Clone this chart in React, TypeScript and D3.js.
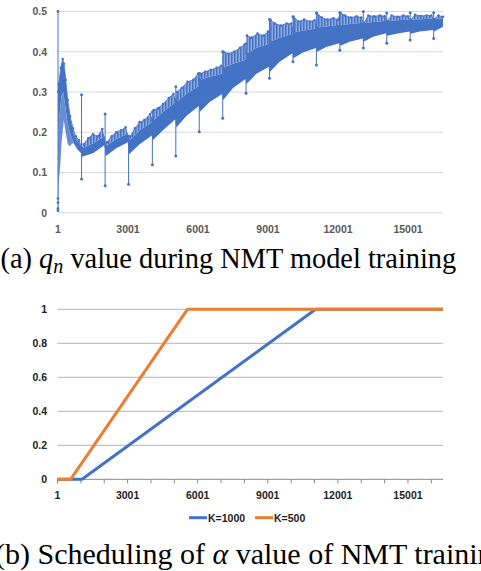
import React from "react";
import * as d3 from "d3";

// ---------- (a) q_n during NMT training ----------
const qIdx = [5, 60, 150, 220, 300, 380, 460, 560, 680, 820, 990, 1030, 1500, 2000, 2040, 2500, 3000, 3045, 3500, 4020, 4060, 4500, 5030, 5070, 5500, 6035, 6075, 6500, 7040, 7080, 7500, 8040, 8080, 8500, 9045, 9085, 9500, 10050, 10090, 10500, 11055, 11095, 11500, 12060, 12100, 12500, 13065, 13105, 13500, 14070, 14110, 14500, 15075, 15115, 15500, 16080, 16120, 16500];
const qLow = [0.2, 0.24, 0.29, 0.3, 0.27, 0.235, 0.21, 0.19, 0.172, 0.158, 0.148, 0.139, 0.148, 0.168, 0.14, 0.16, 0.175, 0.145, 0.17, 0.192, 0.18, 0.205, 0.232, 0.212, 0.24, 0.265, 0.25, 0.275, 0.295, 0.28, 0.31, 0.332, 0.32, 0.345, 0.363, 0.35, 0.375, 0.396, 0.384, 0.398, 0.409, 0.4, 0.412, 0.421, 0.415, 0.425, 0.433, 0.425, 0.437, 0.446, 0.44, 0.445, 0.45, 0.445, 0.45, 0.454, 0.45, 0.462];
const qHigh = [0.3, 0.33, 0.37, 0.378, 0.35, 0.3, 0.26, 0.225, 0.195, 0.178, 0.166, 0.16, 0.172, 0.19, 0.165, 0.183, 0.197, 0.178, 0.205, 0.225, 0.228, 0.25, 0.275, 0.275, 0.295, 0.315, 0.33, 0.338, 0.345, 0.36, 0.37, 0.38, 0.395, 0.41, 0.42, 0.425, 0.435, 0.445, 0.448, 0.452, 0.458, 0.46, 0.463, 0.467, 0.466, 0.469, 0.472, 0.471, 0.474, 0.477, 0.476, 0.478, 0.48, 0.479, 0.481, 0.482, 0.481, 0.483];

const peakIdx = [5, 30, 120, 200, 260, 330, 420, 520, 640, 760, 900, 1030, 1100, 1300, 1500, 1700, 1900, 2040, 2100, 2300, 2500, 2700, 2900, 3045, 3100, 3300, 3500, 3700, 3950, 4060, 4100, 4300, 4500, 4750, 4950, 5070, 5100, 5300, 5550, 5800, 6000, 6075, 6100, 6300, 6550, 6800, 7000, 7080, 7100, 7300, 7550, 7800, 8000, 8080, 8100, 8300, 8550, 8800, 9000, 9085, 9100, 9300, 9550, 9800, 10000, 10090, 10100, 10300, 10550, 10800, 11000, 11095, 11100, 11300, 11550, 11800, 12000, 12100, 12300, 12550, 12800, 13000, 13105, 13300, 13550, 13800, 14000, 14110, 14300, 14550, 14800, 15000, 15115, 15300, 15550, 15800, 16000, 16120, 16300, 16500];
const peakVal = [0.3, 0.32, 0.36, 0.382, 0.37, 0.33, 0.28, 0.24, 0.21, 0.19, 0.18, 0.16, 0.17, 0.185, 0.195, 0.19, 0.208, 0.165, 0.175, 0.19, 0.2, 0.205, 0.212, 0.178, 0.19, 0.21, 0.225, 0.23, 0.245, 0.228, 0.255, 0.26, 0.27, 0.285, 0.295, 0.275, 0.3, 0.31, 0.325, 0.33, 0.345, 0.33, 0.345, 0.35, 0.355, 0.36, 0.365, 0.36, 0.4, 0.395, 0.4, 0.41, 0.418, 0.395, 0.44, 0.435, 0.445, 0.44, 0.45, 0.425, 0.48, 0.47, 0.465, 0.47, 0.47, 0.448, 0.487, 0.475, 0.48, 0.475, 0.478, 0.46, 0.496, 0.485, 0.48, 0.483, 0.48, 0.497, 0.49, 0.485, 0.488, 0.485, 0.471, 0.49, 0.488, 0.49, 0.488, 0.476, 0.49, 0.487, 0.49, 0.488, 0.479, 0.492, 0.489, 0.49, 0.49, 0.481, 0.49, 0.487];

const floorIdx = [5, 15, 40, 100, 150, 250, 330, 420, 520, 600, 680];
const floorVal = [0.005, 0.005, 0.08, 0.12, 0.17, 0.23, 0.2, 0.17, 0.165, 0.172, 0.172];

const spikeIdx = [1010, 2020, 3025, 4045, 5050, 6055, 7060, 8060, 9065, 10070, 11075, 12080, 13085, 14090, 15095, 16100];
const spikeLo = [0.084, 0.067, 0.071, 0.119, 0.141, 0.201, 0.235, 0.297, 0.334, 0.375, 0.367, 0.404, 0.409, 0.421, 0.429, 0.433];
const spikeHi = [0.293, 0.245, 0.19, 0.25, 0.313, 0.346, 0.4, 0.42, 0.48, 0.487, 0.496, 0.497, 0.5, 0.496, 0.497, 0.497];

const firstStep = 1;
const firstVals = [0.5, 0.035, 0.025, 0.01, 0.005];

const topYTicks = [0, 0.1, 0.2, 0.3, 0.4, 0.5];
const xTickLabels = [1, 3001, 6001, 9001, 12001, 15001];

// ---------- (b) alpha scheduling ----------
const k1000X = [1, 1050, 11050, 16500];
const k1000Y = [0, 0, 1, 1];
const k500X = [1, 560, 5560, 16500];
const k500Y = [0, 0, 1, 1];
const botYTicks = [0, 0.2, 0.4, 0.6, 0.8, 1];
const minorTicks = [1, 1001, 2001, 3001, 4001, 5001, 6001, 7001, 8001, 9001, 10001, 11001, 12001, 13001, 14001, 15001, 16001];

const BLUE = "#4472C4";
const ORANGE = "#ED7D31";
const LABEL_FONT = "Liberation Sans";
const SERIF = "Liberation Serif";

export default function App() {
  const N = 16500;
  const xT = d3.scaleLinear().domain([1, N]).range([58, 443]);
  const yT = d3.scaleLinear().domain([0, 0.5]).range([212.7, 11.5]);
  const xB = d3.scaleLinear().domain([1, N]).range([57.5, 443]);
  const yB = d3.scaleLinear().domain([0, 1]).range([479.3, 309.3]);

  const poly = (xs: number[], ys: number[]) => xs.map((x, i) => [xT(x), yT(ys[i])] as [number, number]);
  const lineGen = d3.line();
  const corePts = [...poly(qIdx, qHigh), ...poly(qIdx, qLow).reverse()];
  const peakPts = [...poly(peakIdx, peakVal), ...poly(qIdx, qHigh).reverse()];
  const floorPts = [...poly(floorIdx, floorVal), ...poly(qIdx.slice(0, 10), qLow.slice(0, 10)).reverse()];
  const closed = (pts: [number, number][]) => lineGen(pts) + "Z";

  const lineB = d3.line<[number, number]>().x((d) => xB(d[0])).y((d) => yB(d[1]));
  const k1000 = lineB(k1000X.map((x, i) => [x, k1000Y[i]]));
  const k500 = lineB(k500X.map((x, i) => [x, k500Y[i]]));

  const fmt = (v: number) => (v === 0 ? "0" : v === 1 ? "1" : String(v));
  const lab = { fontFamily: LABEL_FONT, fontWeight: 700, fontSize: 10.5 } as React.CSSProperties;

  return (
    <div style={{ position: "absolute", left: 0, top: 0 }}>
      <svg width={481} height={571} style={{ display: "block", background: "#fff" }}>
        <defs>
          <pattern id="streaks" width={3} height={6} patternUnits="userSpaceOnUse">
            <rect x={0} y={0} width={3} height={6} fill="#8ea9dc" />
            <rect x={0} y={0} width={1.5} height={6} fill={BLUE} />
          </pattern>
        </defs>
        {/* ---- Top chart ---- */}
        {topYTicks.map((t) => (
          <line key={"tg" + t} x1={58} x2={443} y1={yT(t)} y2={yT(t)} stroke="#d9d9d9" strokeWidth={1} />
        ))}
        {topYTicks.map((t) => (
          <text key={"tl" + t} x={47} y={yT(t) + 3.8} textAnchor="end" style={lab} fill="#595959">
            {fmt(t)}
          </text>
        ))}
        {xTickLabels.map((t) => (
          <text key={"tx" + t} x={xT(t)} y={233} textAnchor="middle" style={lab} fill="#595959">
            {t}
          </text>
        ))}
        {/* first point spike */}
        <line x1={xT(firstStep)} x2={xT(firstStep)} y1={yT(firstVals[0])} y2={yT(firstVals[firstVals.length - 1])} stroke={BLUE} strokeWidth={1} />
        {firstVals.map((v, i) => (
          <circle key={"fv" + i} cx={xT(firstStep)} cy={yT(v)} r={1.4} fill={BLUE} />
        ))}
        {/* scatter regions */}
        <path d={closed(floorPts)} fill={BLUE} fillOpacity={0.8} />
        <path d={closed(peakPts)} fill="url(#streaks)" />
        <path d={lineGen(poly(peakIdx, peakVal)) || ""} fill="none" stroke={BLUE} strokeWidth={0.8} />
        {peakIdx.map((x, i) => (
          <circle key={"pk" + i} cx={xT(x)} cy={yT(peakVal[i])} r={1.3} fill={BLUE} />
        ))}
        {/* dense core */}
        <path d={closed(corePts)} fill={BLUE} />
        {/* epoch spikes */}
        {spikeIdx.map((x, i) => (
          <g key={"sp" + i}>
            <line x1={xT(x)} x2={xT(x)} y1={yT(spikeLo[i])} y2={yT(spikeHi[i])} stroke={BLUE} strokeWidth={1} />
            <circle cx={xT(x)} cy={yT(spikeLo[i])} r={1.5} fill={BLUE} />
            <circle cx={xT(x)} cy={yT(spikeHi[i])} r={1.5} fill={BLUE} />
          </g>
        ))}
        {/* caption a */}
        <text x={0.5} y={268} style={{ fontFamily: SERIF, fontSize: 28.4 }} fill="#000">
          (a) <tspan fontStyle="italic">q</tspan>
          <tspan fontStyle="italic" style={{ fontSize: 20 }} dy={5}>n</tspan>
          <tspan dy={-5}> value during NMT model training</tspan>
        </text>

        {/* ---- Bottom chart ---- */}
        {botYTicks.map((t) => (
          <line key={"bg" + t} x1={57.5} x2={443} y1={yB(t)} y2={yB(t)} stroke={t === 0 ? "#868686" : "#b4b4b4"} strokeWidth={1} />
        ))}
        {minorTicks.map((t) => (
          <line key={"bt" + t} x1={xB(t)} x2={xB(t)} y1={yB(0)} y2={yB(0) + 4} stroke="#868686" strokeWidth={1} />
        ))}
        {botYTicks.map((t) => (
          <text key={"bl" + t} x={47} y={yB(t) + 3.8} textAnchor="end" style={lab} fill="#222">
            {fmt(t)}
          </text>
        ))}
        {xTickLabels.map((t) => (
          <text key={"bx" + t} x={xB(t)} y={499} textAnchor="middle" style={lab} fill="#222">
            {t}
          </text>
        ))}
        <path d={k1000 || ""} fill="none" stroke={BLUE} strokeWidth={3} strokeLinejoin="round" />
        <path d={k500 || ""} fill="none" stroke={ORANGE} strokeWidth={3} strokeLinejoin="round" />
        {/* legend */}
        <line x1={189} x2={207} y1={517.7} y2={517.7} stroke={BLUE} strokeWidth={3} />
        <text x={208} y={521.5} style={lab} fill="#222">K=1000</text>
        <line x1={255} x2={273} y1={517.7} y2={517.7} stroke={ORANGE} strokeWidth={3} />
        <text x={274} y={521.5} style={lab} fill="#222">K=500</text>
        {/* caption b */}
        <text x={-5} y={564} style={{ fontFamily: SERIF, fontSize: 30 }} fill="#000">
          (b) Scheduling of <tspan fontStyle="italic">α</tspan> value of NMT training
        </text>
      </svg>
    </div>
  );
}
